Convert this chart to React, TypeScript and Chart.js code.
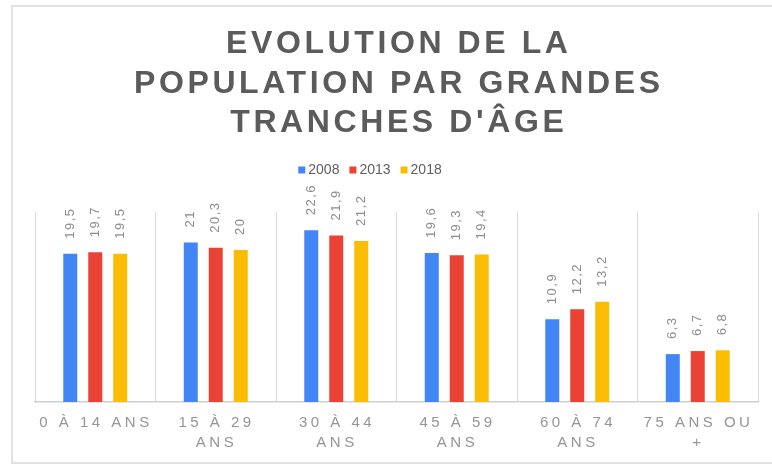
import React, { useEffect, useRef } from "react";
import { Chart, registerables } from "chart.js";

Chart.register(...registerables);

// ---- data ----
const TITLE_LINES = ["EVOLUTION DE LA", "POPULATION PAR GRANDES", "TRANCHES D'ÂGE"];
const CATEGORY_LINES: string[][] = [
  ["0 À 14 ANS"],
  ["15 À 29", "ANS"],
  ["30 À 44", "ANS"],
  ["45 À 59", "ANS"],
  ["60 À 74", "ANS"],
  ["75 ANS OU", "+"],
];
const SERIES_LABELS = ["2008", "2013", "2018"];
const VALUES_2008 = [19.5, 21, 22.6, 19.6, 10.9, 6.3];
const VALUES_2013 = [19.7, 20.3, 21.9, 19.3, 12.2, 6.7];
const VALUES_2018 = [19.5, 20, 21.2, 19.4, 13.2, 6.8];
const Y_MIN = 0;
const Y_MAX = 25;

// ---- style ----
const SERIES_COLORS = ["#4285F4", "#EA4335", "#FBBC04"];
const FONT = "'Liberation Sans', Arial, sans-serif";

function spacedWidth(ctx: CanvasRenderingContext2D, text: string, ls: number) {
  (ctx as any).letterSpacing = "0px";
  const w = ctx.measureText(text).width;
  return w + ls * Math.max(0, Array.from(text).length - 1);
}

const decorPlugin = {
  id: "decor",
  afterDraw(chart: any) {
    const ctx: CanvasRenderingContext2D = chart.ctx;
    const area = chart.chartArea;
    const xScale = chart.scales.x;
    const cx = 397;
    ctx.save();

    // Title
    ctx.font = `bold 32px ${FONT}`;
    ctx.fillStyle = "#5b5b5b";
    ctx.textAlign = "left";
    ctx.textBaseline = "alphabetic";
    TITLE_LINES.forEach((line, i) => {
      const ls = 3.6;
      const w = spacedWidth(ctx, line, ls);
      (ctx as any).letterSpacing = ls + "px";
      ctx.fillText(line, cx - w / 2, 53 + i * 39.5);
    });

    // Legend
    (ctx as any).letterSpacing = "0px";
    ctx.font = `14px ${FONT}`;
    ctx.textBaseline = "middle";
    const legendY = 170;
    const box = 7;
    const boxGap = 3;
    const itemGap = 10;
    const widths = SERIES_LABELS.map((l) => ctx.measureText(l).width);
    const total =
      widths.reduce((a, w) => a + box + boxGap + w, 0) + itemGap * (SERIES_LABELS.length - 1);
    let lx = 370 - total / 2;
    SERIES_LABELS.forEach((label, i) => {
      ctx.fillStyle = SERIES_COLORS[i];
      ctx.fillRect(lx, legendY - box / 2, box, box);
      ctx.fillStyle = "#5f5f5f";
      ctx.fillText(label, lx + box + boxGap, legendY);
      lx += box + boxGap + widths[i] + itemGap;
    });

    // X axis labels
    ctx.font = `15px ${FONT}`;
    ctx.fillStyle = "#959595";
    ctx.textBaseline = "middle";
    CATEGORY_LINES.forEach((lines, i) => {
      const x = xScale.getPixelForValue(i);
      lines.forEach((t, j) => {
        const ls = 3.5;
        const w = spacedWidth(ctx, t, ls);
        (ctx as any).letterSpacing = ls + "px";
        ctx.fillText(t, x - w / 2 - 1, area.bottom + 21 + j * 20);
      });
    });

    // Data labels (rotated)
    ctx.font = `13px ${FONT}`;
    ctx.fillStyle = "#8c8c8c";
    chart.data.datasets.forEach((ds: any, di: number) => {
      const meta = chart.getDatasetMeta(di);
      meta.data.forEach((bar: any, i: number) => {
        const txt = String(ds.data[i]).replace(".", ",");
        (ctx as any).letterSpacing = "1.5px";
        ctx.save();
        ctx.translate(bar.x, bar.y - 15);
        ctx.rotate(-Math.PI / 2);
        ctx.textAlign = "left";
        ctx.textBaseline = "middle";
        ctx.fillText(txt, 0, 0);
        ctx.restore();
      });
    });

    (ctx as any).letterSpacing = "0px";
    ctx.restore();
  },
};

export default function App() {
  const canvasRef = useRef<HTMLCanvasElement | null>(null);

  useEffect(() => {
    const canvas = canvasRef.current;
    if (!canvas) return;
    const seriesValues = [VALUES_2008, VALUES_2013, VALUES_2018];
    const chart = new Chart(canvas, {
      type: "bar",
      data: {
        labels: CATEGORY_LINES.map((l) => l.join(" ")),
        datasets: SERIES_LABELS.map((label, i) => ({
          label,
          data: seriesValues[i],
          backgroundColor: SERIES_COLORS[i],
          borderWidth: 0,
          categoryPercentage: 0.622,
          barPercentage: 0.56,
        })),
      },
      options: {
        responsive: false,
        animation: false,
        devicePixelRatio: 1,
        layout: { padding: { left: 35, right: 14, top: 212, bottom: 62 } },
        plugins: {
          legend: { display: false },
          title: { display: false },
          tooltip: { enabled: false },
        },
        scales: {
          x: {
            grid: { display: true, offset: true, drawTicks: false, color: "#dadada", lineWidth: 1 },
            border: { display: true, color: "#cfcfcf", width: 1.5 },
            ticks: { display: false },
          },
          y: { display: false, min: Y_MIN, max: Y_MAX },
        },
      },
      plugins: [decorPlugin],
    });
    return () => chart.destroy();
  }, []);

  return (
    <div style={{ position: "fixed", left: 0, top: 0, width: 772, height: 464, background: "#fff" }}>
      <div
        style={{
          position: "absolute",
          left: 11,
          top: 5,
          width: 761,
          height: 459,
          boxSizing: "border-box",
          borderTop: "2px solid #e2e2e2",
          borderLeft: "2px solid #e2e2e2",
          borderBottom: "2px solid #e2e2e2",
        }}
      />
      <canvas
        ref={canvasRef}
        width={772}
        height={464}
        style={{ position: "absolute", left: 0, top: 0, width: 772, height: 464 }}
      />
    </div>
  );
}
